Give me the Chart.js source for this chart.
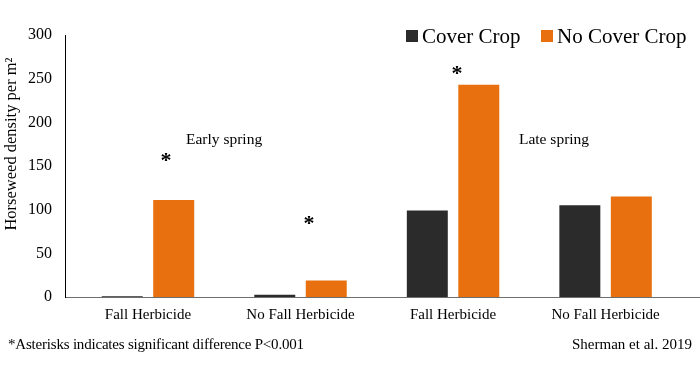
<!DOCTYPE html>
<html><head><meta charset="utf-8">
<script src="https://cdn.jsdelivr.net/npm/chart.js@4/dist/chart.umd.min.js"></script>
<style>html,body{margin:0;padding:0;background:#fff}#wrap{width:700px;height:365px}</style>
</head><body><div id="wrap"><canvas id="c" width="700" height="365"></canvas></div>
<script>
const categories = ["Fall Herbicide", "No Fall Herbicide", "Fall Herbicide", "No Fall Herbicide"];
const coverCrop = [1, 2.5, 99, 105];
const noCoverCrop = [111, 19, 243, 115];
const yTicks = [0, 50, 100, 150, 200, 250, 300];
// annotation anchors in data coordinates (x = category index position)
const asterisks = [{x: 0.118, y: 160}, {x: 1.055, y: 88}, {x: 2.026, y: 260}];
const seasonLabels = [{text: "Early spring", x: 0.249, y: 180}, {text: "Late spring", x: 2.432, y: 180}];
const seriesNames = ["Cover Crop", "No Cover Crop"];
const yTitle = "Horseweed density per m²";
const footLeft = "*Asterisks indicates significant difference P<0.001";
const footRight = "Sherman et al. 2019";
const colors = ["#2b2b2b", "#e8700e"];
const FONT = "'Liberation Serif', 'Times New Roman', serif";

const overlay = {
  id: 'overlay',
  afterDraw(chart) {
    const ctx = chart.ctx, x = chart.scales.x, y = chart.scales.y;
    ctx.save();
    ctx.fillStyle = '#000';
    ctx.font = "bold 22px " + FONT;
    ctx.textAlign = 'center'; ctx.textBaseline = 'middle';
    asterisks.forEach(a => ctx.fillText('*', x.getPixelForValue(a.x), y.getPixelForValue(a.y) + 4));
    ctx.font = "15.5px " + FONT;
    ctx.textAlign = 'left';
    seasonLabels.forEach(s => ctx.fillText(s.text, x.getPixelForValue(s.x), y.getPixelForValue(s.y)));
    // legend
    ctx.font = "21px " + FONT;
    const ly = 36, legX = [406, 541];
    seriesNames.forEach((n, i) => {
      ctx.fillStyle = colors[i];
      ctx.fillRect(legX[i], ly - 6, 12, 12);
      ctx.fillStyle = '#000';
      ctx.fillText(n, legX[i] + 16, ly + 1);
    });
    // y title
    ctx.save();
    ctx.translate(12, 144);
    ctx.rotate(-Math.PI / 2);
    ctx.font = "16.5px " + FONT;
    ctx.textAlign = 'center';
    ctx.fillText(yTitle, 0, 0);
    ctx.restore();
    // footnotes
    ctx.font = "15px " + FONT;
    ctx.textAlign = 'left';
    try { ctx.letterSpacing = '-0.2px'; } catch (e) {}
    ctx.fillText(footLeft, 8, 345);
    try { ctx.letterSpacing = '0px'; } catch (e) {}
    ctx.textAlign = 'right';
    ctx.fillText(footRight, 692, 345);
    ctx.restore();
  }
};

new Chart(document.getElementById('c'), {
  type: 'bar',
  data: {
    datasets: [
      {label: seriesNames[0], data: coverCrop.map((v, i) => ({x: i, y: v})), backgroundColor: colors[0]},
      {label: seriesNames[1], data: noCoverCrop.map((v, i) => ({x: i, y: v})), backgroundColor: colors[1]}
    ]
  },
  options: {
    responsive: false, animation: false,
    layout: {padding: {top: 35, right: 0, left: 0, bottom: 0}},
    categoryPercentage: 0.675, barPercentage: 0.796,
    plugins: {legend: {display: false}, tooltip: {enabled: false}},
    scales: {
      x: {
        type: 'linear', min: -0.544, max: 3.619, bounds: 'data', offset: false,
        afterBuildTicks(s) { s.ticks = categories.map((c, i) => ({value: i})); },
        grid: {display: false, drawTicks: false, offset: false},
        border: {color: '#6e6e6e', width: 1},
        ticks: {color: '#000', font: {family: FONT, size: 15}, padding: 9, maxRotation: 0, autoSkip: false,
                callback: v => categories[v]},
        afterFit(s) { s.height = 68; }
      },
      y: {
        min: 0, max: 300,
        afterBuildTicks(s) { s.ticks = yTicks.map(v => ({value: v})); },
        grid: {display: false, drawTicks: false},
        border: {color: '#000', width: 1},
        ticks: {color: '#000', font: {family: FONT, size: 16}, padding: 13},
        afterFit(s) { s.width = 65; }
      }
    }
  },
  plugins: [overlay]
});
</script></body></html>
